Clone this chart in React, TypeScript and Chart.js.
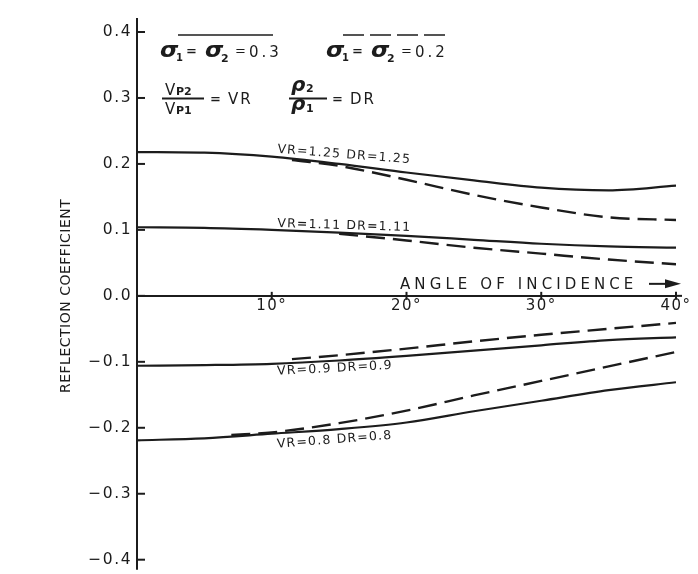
import React, { useEffect, useRef } from 'react';
import { Chart, registerables } from 'chart.js';

Chart.register(...registerables);

const INK = '#1c1c1c';
const FONT = '"DejaVu Sans", "Liberation Sans", sans-serif';

// axis ranges / ticks
const X_MIN = 0;
const X_MAX = 40;
const X_STEP = 10;
const Y_MIN = -0.4;
const Y_MAX = 0.4;
const Y_STEP = 0.1;
const xTickLabels = ['', '10°', '20°', '30°', '40°'];
const yAxisTitle = 'REFLECTION COEFFICIENT';
const xAxisTitle = 'ANGLE OF INCIDENCE';

// solid curves: sigma1 = sigma2 = 0.3
const solidAngles = [0, 5, 10, 15, 20, 25, 30, 35, 40];
const vr125Solid = [0.218, 0.217, 0.211, 0.2, 0.187, 0.175, 0.164, 0.16, 0.167];
const vr111Solid = [0.104, 0.103, 0.1, 0.096, 0.091, 0.085, 0.079, 0.075, 0.073];
const vr09Solid = [-0.106, -0.105, -0.103, -0.098, -0.091, -0.083, -0.075, -0.067, -0.063];
const vr08Solid = [-0.219, -0.216, -0.209, -0.202, -0.192, -0.175, -0.159, -0.143, -0.131];

// dashed curves: sigma1 = sigma2 = 0.2
const vr125DashAngles = [11.5, 15, 20, 25, 30, 35, 40];
const vr125Dash = [0.206, 0.197, 0.176, 0.153, 0.134, 0.119, 0.115];
const vr111DashAngles = [15, 20, 25, 30, 35, 40];
const vr111Dash = [0.094, 0.084, 0.073, 0.064, 0.055, 0.048];
const vr09DashAngles = [11.5, 15, 20, 25, 30, 35, 40];
const vr09Dash = [-0.096, -0.09, -0.08, -0.069, -0.059, -0.05, -0.041];
const vr08DashAngles = [7, 10, 15, 20, 25, 30, 35, 40];
const vr08Dash = [-0.211, -0.207, -0.193, -0.174, -0.151, -0.129, -0.107, -0.085];

const curveLabels = ['VR=1.25 DR=1.25', 'VR=1.11 DR=1.11', 'VR=0.9 DR=0.9', 'VR=0.8 DR=0.8'];
const sigmaValues = ['0.3', '0.2'];

const pts = (xs: number[], ys: number[]) => xs.map((x, i) => ({ x, y: ys[i] }));

const solid = (data: any) => ({
  data,
  borderColor: INK,
  borderWidth: 2.2,
  pointRadius: 0,
  cubicInterpolationMode: 'monotone',
  fill: false,
});
const dashed = (data: any) => ({ ...solid(data), borderDash: [19, 8], borderWidth: 2.4 });

function seg(ctx: CanvasRenderingContext2D, x1: number, y1: number, x2: number, y2: number) {
  ctx.beginPath();
  ctx.moveTo(x1, y1);
  ctx.lineTo(x2, y2);
  ctx.stroke();
}

function sigma(ctx: CanvasRenderingContext2D, x: number, base: number) {
  ctx.save();
  ctx.translate(x, base);
  ctx.scale(1.12, 1);
  ctx.font = `italic bold 21px ${FONT}`;
  ctx.fillText('σ', 0, 0);
  ctx.restore();
}

function sigmaRow(ctx: CanvasRenderingContext2D, x0: number, base: number, value: string) {
  ctx.letterSpacing = '0px';
  sigma(ctx, x0, base);
  ctx.font = `bold 10px ${FONT}`;
  ctx.fillText('1', x0 + 16, base + 4);
  ctx.font = `bold 13px ${FONT}`;
  ctx.fillText('=', x0 + 26, base - 2);
  sigma(ctx, x0 + 45, base);
  ctx.font = `bold 11px ${FONT}`;
  ctx.fillText('2', x0 + 61, base + 5);
  ctx.font = `13px ${FONT}`;
  ctx.fillText('=', x0 + 75, base - 2);
  ctx.font = `15px ${FONT}`;
  ctx.letterSpacing = '3px';
  ctx.fillText(value, x0 + 89, base);
  ctx.letterSpacing = '0px';
}

const decorPlugin = {
  id: 'decor',
  beforeDraw(chart: any) {
    chart.ctx.letterSpacing = '1.5px';
  },
  afterDraw(chart: any) {
    const ctx: CanvasRenderingContext2D = chart.ctx;
    const xs = chart.scales.x;
    const ys = chart.scales.y;
    const px = (a: number) => xs.getPixelForValue(a);
    const py = (v: number) => ys.getPixelForValue(v);
    ctx.save();
    ctx.letterSpacing = '0px';
    ctx.strokeStyle = INK;
    ctx.fillStyle = INK;
    ctx.lineCap = 'butt';
    ctx.textAlign = 'left';
    ctx.textBaseline = 'alphabetic';

    const x0 = px(X_MIN);
    const y0 = py(0);
    // axis extensions and tick marks
    ctx.lineWidth = 2;
    seg(ctx, x0, py(Y_MAX) - 14, x0, py(Y_MIN) + 10);
    seg(ctx, px(X_MAX), y0, px(X_MAX) + 6, y0);
    ys.ticks.forEach((t: any) => seg(ctx, x0, py(t.value), x0 + 8, py(t.value)));
    xs.ticks.forEach((t: any) => {
      if (t.value > X_MIN) seg(ctx, px(t.value), y0 - 4, px(t.value), y0 + 4);
    });

    // y-axis title
    ctx.save();
    ctx.translate(66, (ys.top + ys.bottom) / 2);
    ctx.rotate(-Math.PI / 2);
    ctx.textAlign = 'center';
    ctx.textBaseline = 'middle';
    ctx.font = `14px ${FONT}`;
    ctx.letterSpacing = '0.5px';
    ctx.fillText(yAxisTitle, 0, 0);
    ctx.restore();

    // x-axis title with arrow
    ctx.font = `15px ${FONT}`;
    ctx.letterSpacing = '4.1px';
    ctx.fillText(xAxisTitle, x0 + 263, y0 - 7);
    ctx.letterSpacing = '0px';
    ctx.lineWidth = 2;
    seg(ctx, x0 + 512, y0 - 12, x0 + 532, y0 - 12);
    ctx.beginPath();
    ctx.moveTo(x0 + 528, y0 - 16.5);
    ctx.lineTo(x0 + 544, y0 - 12);
    ctx.lineTo(x0 + 528, y0 - 7.5);
    ctx.closePath();
    ctx.fill();

    // curve labels
    const labelPos = [
      { a: 10.4, v: 0.217, rot: 4.5 },
      { a: 10.4, v: 0.1045, rot: 1.8 },
      { a: 10.4, v: -0.1197, rot: -3 },
      { a: 10.4, v: -0.2303, rot: -4.5 },
    ];
    curveLabels.forEach((txt, i) => {
      const p = labelPos[i];
      ctx.save();
      ctx.translate(px(p.a), py(p.v));
      ctx.rotate((p.rot * Math.PI) / 180);
      ctx.font = `12.5px ${FONT}`;
      ctx.letterSpacing = '1.2px';
      ctx.fillText(txt, 0, 0);
      ctx.restore();
    });

    // line-style key
    ctx.lineWidth = 1.6;
    seg(ctx, 178, 35, 273, 35);
    ctx.setLineDash([21, 6]);
    seg(ctx, 343, 35, 445, 35);
    ctx.setLineDash([]);
    sigmaRow(ctx, 160, 57, sigmaValues[0]);
    sigmaRow(ctx, 326, 57, sigmaValues[1]);

    // VP2 / VP1 = VR
    ctx.font = `15px ${FONT}`;
    ctx.fillText('V', 165, 95);
    ctx.fillText('V', 165, 114);
    ctx.font = `bold 11px ${FONT}`;
    ctx.fillText('P2', 176, 95);
    ctx.fillText('P1', 176, 114);
    ctx.lineWidth = 2;
    seg(ctx, 162, 98.5, 204, 98.5);
    ctx.font = `bold 13px ${FONT}`;
    ctx.fillText('=', 210, 103);
    ctx.font = `15px ${FONT}`;
    ctx.letterSpacing = '2px';
    ctx.fillText('VR', 228, 104);
    ctx.letterSpacing = '0px';

    // rho2 / rho1 = DR
    ctx.font = `italic bold 20px ${FONT}`;
    ctx.fillText('ρ', 291, 91);
    ctx.fillText('ρ', 291, 110);
    ctx.font = `bold 11px ${FONT}`;
    ctx.fillText('2', 306, 92);
    ctx.fillText('1', 306, 112);
    seg(ctx, 289, 98.5, 327, 98.5);
    ctx.font = `bold 13px ${FONT}`;
    ctx.fillText('=', 332, 103);
    ctx.font = `15px ${FONT}`;
    ctx.letterSpacing = '2px';
    ctx.fillText('DR', 350, 104);

    ctx.restore();
    ctx.letterSpacing = '0px';
  },
};

export default function App() {
  const ref = useRef<HTMLCanvasElement>(null);

  useEffect(() => {
    if (!ref.current) return;
    const chart = new Chart(ref.current, {
      type: 'line',
      data: {
        datasets: [
          solid(pts(solidAngles, vr125Solid)),
          dashed(pts(vr125DashAngles, vr125Dash)),
          solid(pts(solidAngles, vr111Solid)),
          dashed(pts(vr111DashAngles, vr111Dash)),
          solid(pts(solidAngles, vr09Solid)),
          dashed(pts(vr09DashAngles, vr09Dash)),
          solid(pts(solidAngles, vr08Solid)),
          dashed(pts(vr08DashAngles, vr08Dash)),
        ] as any,
      },
      options: {
        responsive: false,
        animation: false,
        devicePixelRatio: 1,
        events: [],
        layout: { padding: { left: 0, right: 22, top: 32, bottom: 12 } },
        plugins: {
          legend: { display: false },
          tooltip: { enabled: false },
        },
        scales: {
          x: {
            type: 'linear',
            min: X_MIN,
            max: X_MAX,
            position: { y: 0 } as any,
            grid: { display: false, drawTicks: false },
            border: { display: true, color: INK, width: 2 },
            ticks: {
              stepSize: X_STEP,
              padding: 1,
              autoSkip: false,
              maxRotation: 0,
              color: INK,
              font: { family: FONT, size: 15 },
              callback: (v: any) => xTickLabels[Math.round(Number(v) / X_STEP)] ?? '',
            },
          },
          y: {
            type: 'linear',
            min: Y_MIN,
            max: Y_MAX,
            afterFit: (s: any) => {
              s.width = 137;
            },
            grid: { display: false, drawTicks: false },
            border: { display: true, color: INK, width: 2 },
            ticks: {
              stepSize: Y_STEP,
              padding: 5,
              color: INK,
              font: { family: FONT, size: 15.5 },
              callback: (v: any) => (Math.round(Number(v) * 10) / 10).toFixed(1).replace('-', '−'),
            },
          },
        },
      } as any,
      plugins: [decorPlugin],
    });
    return () => chart.destroy();
  }, []);

  return (
    <div style={{ position: 'absolute', left: 0, top: 0, width: 698, height: 574, background: '#fff' }}>
      <canvas ref={ref} width={698} height={574} style={{ display: 'block' }} />
    </div>
  );
}
